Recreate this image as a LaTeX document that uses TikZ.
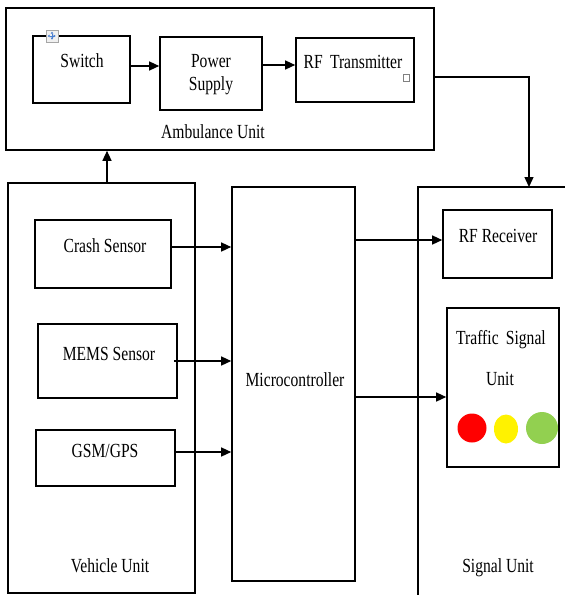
\documentclass[tikz,border=0pt]{standalone}
\usepackage{fontspec}
\setmainfont{Liberation Serif}[FakeStretch=0.78]
\usetikzlibrary{arrows.meta}
\definecolor{tgreen}{HTML}{92D050}
\definecolor{handleblue}{HTML}{4A7FD0}
\begin{document}
\begin{tikzpicture}[x=1pt,y=-1pt,
  box/.style={draw, line width=1.6pt, inner sep=0pt},
  txt/.style={anchor=base, inner sep=0pt, font=\fontsize{20}{24}\selectfont},
  conn/.style={line width=1.3pt},
  arr/.style={conn, -{Triangle[length=10pt,width=9pt]}}]
\useasboundingbox (0,0) rectangle (565,595);
% Ambulance unit
\node[box, minimum width=428pt, minimum height=142pt] (amb) at (220,79) {};
\node[box, minimum width=97pt, minimum height=67pt] (sw) at (81.5,69.5) {};
\node[box, minimum width=102pt, minimum height=73pt] (ps) at (211,73.5) {};
\node[box, minimum width=118pt, minimum height=64pt] (rft) at (355,70) {};
\node[txt] (swt) at (82,67) {Switch};
\node[txt] (pst1) at (211,67) {Power};
\node[txt] (pst2) at (211,90) {Supply};
\node[txt] (rftt) at (353,68) {RF\, Transmitter};
\node[txt] (ambt) at (213,138) {Ambulance Unit};
% Word artefacts
\node[draw=gray!70, fill=gray!12, line width=0.6pt, minimum size=12pt, inner sep=0pt] (handle) at (52,36) {};
\draw[handleblue, line width=0.7pt, {Triangle[length=2pt,width=2.5pt]}-{Triangle[length=2pt,width=2.5pt]}] (handle.west) ++(2,0) -- ++(8,0);
\draw[handleblue, line width=0.7pt, {Triangle[length=2pt,width=2.5pt]}-{Triangle[length=2pt,width=2.5pt]}] (handle.north) ++(0,2) -- ++(0,8);
\node[draw=gray, line width=0.5pt, minimum width=6pt, minimum height=7pt, inner sep=0pt] (sq) at (406,78) {};
% Vehicle unit
\node[box, minimum width=187pt, minimum height=410pt] (veh) at (101.5,388) {};
\node[box, minimum width=136pt, minimum height=68pt] (crash) at (103,254) {};
\node[box, minimum width=139pt, minimum height=74pt] (mems) at (107.5,361) {};
\node[box, minimum width=139pt, minimum height=56pt] (gsm) at (105.5,458) {};
\node[txt] (crasht) at (105,252) {Crash Sensor};
\node[txt] (memst) at (109,360) {MEMS Sensor};
\node[txt] (gsmt) at (105,457) {GSM/GPS};
\node[txt] (veht) at (110,572) {Vehicle Unit};
% Microcontroller
\node[box, minimum width=123pt, minimum height=394pt] (micro) at (293.5,384) {};
\node[txt] (microt) at (295,386) {Microcontroller};
% Signal unit (open to the right and bottom)
\coordinate (sigtl) at (418,187);
\coordinate (sigdrop) at (529,187);
\draw[line width=1.6pt] (565,187) -- (sigtl) -- (418,595);
\node[box, minimum width=109pt, minimum height=68pt] (rfr) at (497.5,244) {};
\node[box, minimum width=112pt, minimum height=159pt] (tsu) at (503,387.5) {};
\node[txt] (rfrt) at (498,242) {RF Receiver};
\node[txt] (tsut1) at (501,344) {Traffic\, Signal};
\node[txt] (tsut2) at (500,385) {Unit};
\node[txt] (sigt) at (498,572) {Signal Unit};
\fill[red] (472,428) circle [radius=14.5pt];
\fill[yellow] (506,429) ellipse [x radius=12pt, y radius=14.5pt];
\fill[tgreen] (542,428) circle [radius=16pt];
% Connectors
\draw[arr] ([yshift=3.5pt]sw.east) -- ([yshift=3.5pt]sw.east -| ps.west);
\draw[arr] ([yshift=8.5pt]ps.east) -- ([yshift=8.5pt]ps.east -| rft.west);
\draw[arr] ([xshift=5.5pt]veh.north) -- ([xshift=5.5pt]veh.north |- amb.south);
\draw[arr] ([yshift=2pt]amb.east) -| (sigdrop);
\draw[arr] ([yshift=7pt]crash.east) -- ([yshift=7pt]crash.east -| micro.west);
\draw[arr] ([xshift=-4pt]mems.east) -- (mems.east -| micro.west);
\draw[arr] ([yshift=6pt]gsm.east) -- ([yshift=6pt]gsm.east -| micro.west);
\draw[arr] ([yshift=4pt]rfr.west -| micro.east) -- ([yshift=4pt]rfr.west);
\draw[arr] ([yshift=-9.5pt]tsu.west -| micro.east) -- ([yshift=-9.5pt]tsu.west);
\end{tikzpicture}
\end{document}
